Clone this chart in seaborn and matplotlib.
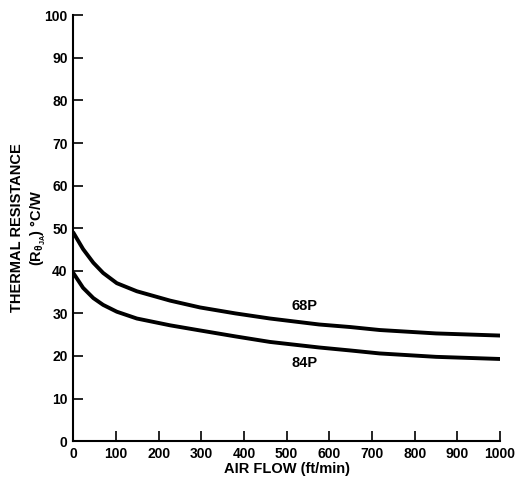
import pandas as pd
import matplotlib.pyplot as plt
import seaborn as sns

# values
air_flow = [0, 23, 47, 70, 102, 149, 227, 297, 380, 461, 576, 649, 718, 850, 1000]
r_68p = [49.0, 45.1, 41.9, 39.5, 37.1, 35.2, 33.0, 31.4, 30.0, 28.8, 27.4, 26.8, 26.1, 25.3, 24.8]
r_84p = [39.5, 36.0, 33.6, 32.0, 30.4, 28.8, 27.2, 26.0, 24.6, 23.3, 22.0, 21.3, 20.6, 19.8, 19.3]
series_names = ['68P', '84P']

df = pd.concat([
    pd.DataFrame({'flow': air_flow, 'r': r_68p, 'pkg': series_names[0]}),
    pd.DataFrame({'flow': air_flow, 'r': r_84p, 'pkg': series_names[1]}),
])

sns.set_style('ticks')
plt.rcParams['font.family'] = ['Liberation Sans', 'DejaVu Sans']
plt.rcParams['font.weight'] = 'bold'
plt.rcParams['text.color'] = 'black'
plt.rcParams['axes.labelcolor'] = 'black'
plt.rcParams['mathtext.fontset'] = 'custom'
plt.rcParams['mathtext.rm'] = 'Liberation Sans:bold'
plt.rcParams['mathtext.it'] = 'Liberation Sans:bold'
plt.rcParams['mathtext.bf'] = 'Liberation Sans:bold'

fig = plt.figure(figsize=(5.16, 4.79), dpi=100)
ax = fig.add_axes([0.142, 0.079, 0.827, 0.889])

sns.lineplot(data=df, x='flow', y='r', hue='pkg', palette=['black', 'black'],
             linewidth=2.8, legend=False, ax=ax)

ax.set_xlim(0, 1000)
ax.set_ylim(0, 100)
ax.set_xticks(range(0, 1001, 100))
ax.set_yticks(range(0, 101, 10))
sns.despine(ax=ax)
for s in ['left', 'bottom']:
    ax.spines[s].set_linewidth(1.5)
    ax.spines[s].set_color('black')
ax.tick_params(direction='in', length=7, width=1.2, colors='black', labelsize=10, pad=4)
for lbl in ax.get_xticklabels() + ax.get_yticklabels():
    lbl.set_fontweight('bold')

ax.set_xlabel('AIR FLOW (ft/min)', fontsize=10.5, fontweight='bold', labelpad=1, color='black')
ax.set_ylabel('')
fig.text(29 / 516, 1 - 228 / 479, 'THERMAL RESISTANCE\n(R$_{\\theta_{JA}}$) °C/W',
         rotation=90, ha='center', va='center', fontsize=10.5, fontweight='bold',
         linespacing=1.35, multialignment='center', color='black')

ax.text(543, 30.0, series_names[0], fontsize=10.5, fontweight='bold', ha='center', va='bottom', color='black')
ax.text(543, 20.0, series_names[1], fontsize=10.5, fontweight='bold', ha='center', va='top', color='black')

fig.savefig('out.png', dpi=100)
